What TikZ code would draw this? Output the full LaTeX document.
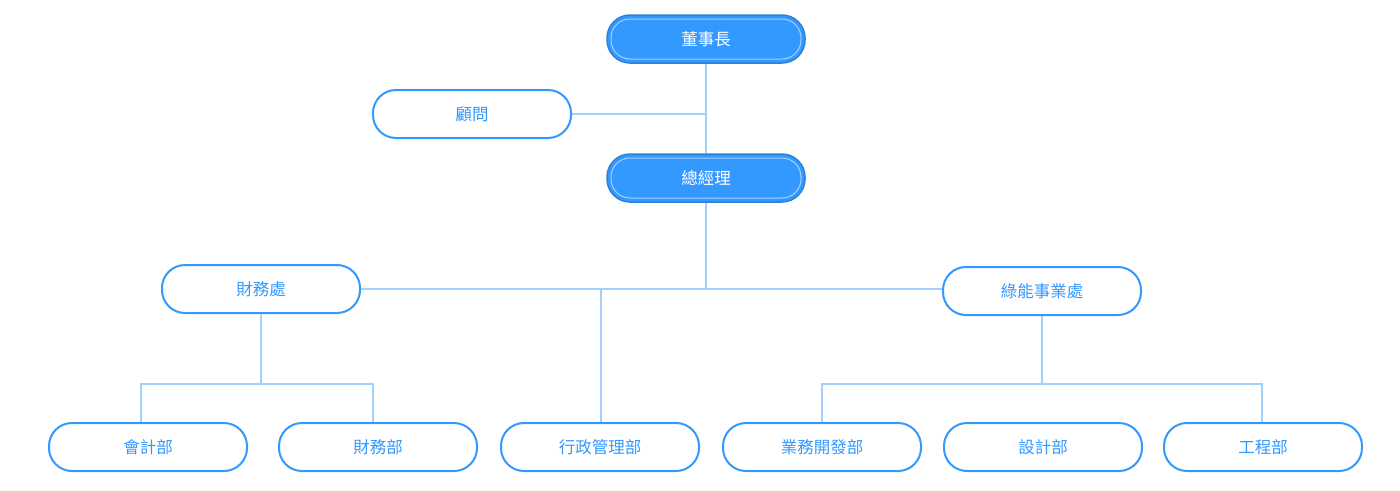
\documentclass[tikz,border=0pt]{standalone}
\usepackage{fontspec}
\newfontfamily\cjk{Noto Sans CJK TC}
\usepackage{tikz}
\usetikzlibrary{positioning}
\definecolor{orgblue}{HTML}{3399FF}
\definecolor{linkblue}{HTML}{A3D0FF}

\begin{document}
\begin{tikzpicture}[
      x=1pt, y=-1pt,
      label font/.style={font=\cjk\fontsize{16.5}{18}\selectfont},
      unit/.style={draw=orgblue, fill=white, line width=2pt, rounded corners=23pt, minimum width=198pt, minimum height=48pt, inner sep=0pt, text=orgblue, label font},
      head/.style={unit, fill=orgblue, draw=orgblue!85!black, line width=1.5pt, text=white},
      headrim/.style={draw=white!55!orgblue, line width=1pt, rounded corners=19pt, minimum width=190pt, minimum height=40pt, inner sep=0pt, text=white, label font},
      link/.style={draw=linkblue, line width=2pt}
  ]
      \useasboundingbox (0,0) rectangle (1400,490);

      % joints of the connectors
      \coordinate (advj) at (706,114);
      \coordinate (gmj) at (706,290);
      \coordinate (admj) at (601,290);
      \coordinate (finj) at (261,384);
      \coordinate (grnj) at (1042,384);

      \node[head] (chair) at (706,39) {};
      \node[headrim] (chairrim) at (chair) {董事長};
      \node[unit] (advisor) at (472,114) {顧問};
      \node[head] (gm) at (706,178) {};
      \node[headrim] (gmrim) at (gm) {總經理};

      \node[unit] (findiv) at (261,289) {財務處};
      \node[unit] (green) at (1042,291) {綠能事業處};

      \node[unit] (acct) at (148,447) {會計部};
      \node[unit] (fin) at (378,447) {財務部};
      \node[unit] (admin) at (600,447) {行政管理部};
      \node[unit] (bizdev) at (822,447) {業務開發部};
      \node[unit] (design) at (1043,447) {設計部};
      \node[unit] (eng) at (1263,447) {工程部};

      \draw[link] (chair.south) -- (gm.north);
      \draw[link] (advisor.east) -- (advj);
      \draw[link] (gm.south) -- (gmj);
      \draw[link] (findiv.east) -- (green.west |- findiv.east);
      \draw[link] (admj) -- (admin.north -| admj);
      \draw[link] (findiv.south) -- (finj);
      \draw[link] (acct.north -| 141,0) |- (finj) -| (fin.north -| 373,0);
      \draw[link] (green.south) -- (grnj);
      \draw[link] (bizdev.north) |- (grnj) -| (eng.north -| 1262,0);
  \end{tikzpicture}
\end{document}
